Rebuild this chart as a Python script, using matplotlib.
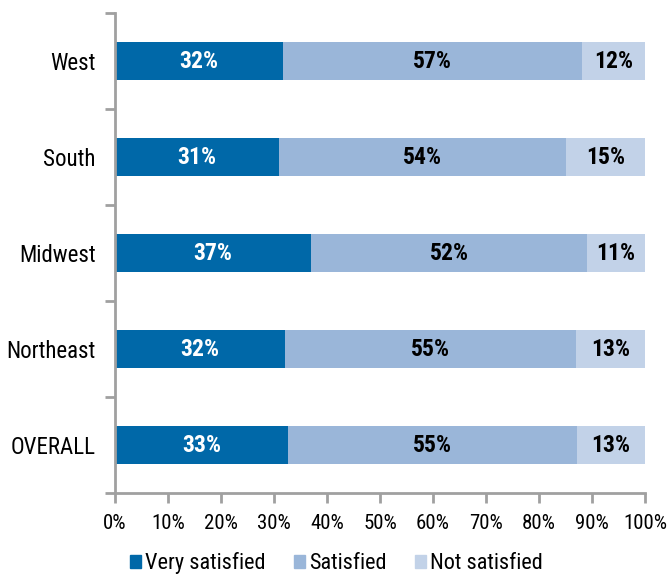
import numpy as np
import matplotlib.pyplot as plt
import matplotlib.patheffects as pe
from matplotlib import font_manager
from matplotlib.patches import Patch
from matplotlib.font_manager import FontProperties
from matplotlib.textpath import TextPath
from matplotlib.ft2font import FT2Font

regions = ['OVERALL', 'Northeast', 'Midwest', 'South', 'West']
very_satisfied = [33, 32, 37, 31, 32]
satisfied = [55, 55, 52, 54, 57]
not_satisfied = [13, 13, 11, 15, 12]
series_names = ['Very satisfied', 'Satisfied', 'Not satisfied']
colors = ['#0068a8', '#9ab6d9', '#c2d2e8']
text_colors = ['white', 'black', 'black']


def weight_num(w):
    if isinstance(w, (int, float)):
        return w
    return font_manager.weight_dict.get(w, 400)


def has_latin(fname):
    try:
        ft = FT2Font(fname)
        return all(ft.get_char_index(ord(c)) for c in 'NOVa%019')
    except Exception:
        return False


def ratio(fname):
    # width of 'OVERALL' over its height; about 4.9 in the original
    ext = TextPath((0, 0), 'OVERALL', size=10, prop=FontProperties(fname=fname)).get_extents()
    return ext.width / ext.height


# the original is set in something like Arial Narrow: look for a narrow face
known = ('Liberation', 'Arial', 'Roboto', 'Noto Sans', 'Open Sans', 'DejaVu Sans', 'Lato', 'Inter')
groups = {}
for f in font_manager.fontManager.ttflist:
    narrow = ('Narrow' in f.name or 'Condensed' in f.name
              or str(f.stretch) in ('condensed', 'semi-condensed'))
    if f.style != 'normal' or not narrow or not f.name.startswith(known):
        continue
    if 'Mono' in f.name or not has_latin(f.fname):
        continue
    groups.setdefault((f.name, str(f.stretch)), []).append(f)

choice = None
for key, faces in groups.items():
    reg = min(faces, key=lambda f: abs(weight_num(f.weight) - 400))
    bld = max(faces, key=lambda f: weight_num(f.weight))
    if abs(weight_num(reg.weight) - 400) > 100:
        continue
    has_bold = weight_num(bld.weight) >= 600
    score = (0 if has_bold else 1, abs(ratio(reg.fname) - 4.9))
    if choice is None or score < choice[0]:
        choice = (score, reg, bld if has_bold else None)

if choice is not None:
    fp_reg = FontProperties(fname=choice[1].fname)
    fp_bold = FontProperties(fname=choice[2].fname) if choice[2] is not None else fp_reg
    fake_bold = choice[2] is None
    scale = 1.0
else:
    fp_reg = FontProperties(family='Liberation Sans')
    fp_bold = FontProperties(family='Liberation Sans', weight='bold')
    fake_bold = False
    scale = 0.85

data = np.array([very_satisfied, satisfied, not_satisfied], dtype=float)
shares = data / data.sum(axis=0) * 100

fig = plt.figure(figsize=(6.72, 5.74), dpi=100)
ax = fig.add_axes([0.171, 0.141, 0.789, 0.836])

y = np.arange(len(regions))
left = np.zeros(len(regions))
for i in range(3):
    ax.barh(y, shares[i], left=left, height=0.4, color=colors[i], label=series_names[i])
    for j in range(len(regions)):
        t = ax.text(left[j] + shares[i][j] / 2, y[j], f'{int(data[i][j])}%',
                    ha='center', va='center', fontproperties=fp_bold,
                    fontsize=17 * scale, color=text_colors[i])
        if fake_bold:
            t.set_path_effects([pe.withStroke(linewidth=1.1, foreground=text_colors[i])])
    left += shares[i]

ax.set_xlim(0, 100)
ax.set_ylim(-0.5, len(regions) - 0.5)
ax.set_xticks(np.arange(0, 101, 10))
ax.set_xticklabels([f'{v}%' for v in range(0, 101, 10)],
                   fontproperties=fp_reg, fontsize=15 * scale)
ax.set_yticks(y)
ax.set_yticklabels(regions, fontproperties=fp_reg, fontsize=16.5 * scale)
ax.tick_params(axis='y', length=0, pad=14)
ax.set_yticks(np.arange(-0.5, len(regions), 1), minor=True)
ax.tick_params(axis='y', which='minor', length=7, width=2, color='#a0a0a0')
ax.tick_params(axis='x', length=7, width=2, color='#a0a0a0', pad=8)

for side in ['top', 'right']:
    ax.spines[side].set_visible(False)
for side in ['left', 'bottom']:
    ax.spines[side].set_color('#a0a0a0')
    ax.spines[side].set_linewidth(2)

legend_font = fp_reg.copy()
legend_font.set_size(16 * scale)
handles = [Patch(color=c) for c in colors]
fig.legend(handles, series_names, loc='lower left', bbox_to_anchor=(0.18, -0.016),
           ncol=3, frameon=False, prop=legend_font, handlelength=0.5, handleheight=0.5,
           handletextpad=0.2, columnspacing=1.25, borderaxespad=0)

fig.savefig('out.png', dpi=100)
